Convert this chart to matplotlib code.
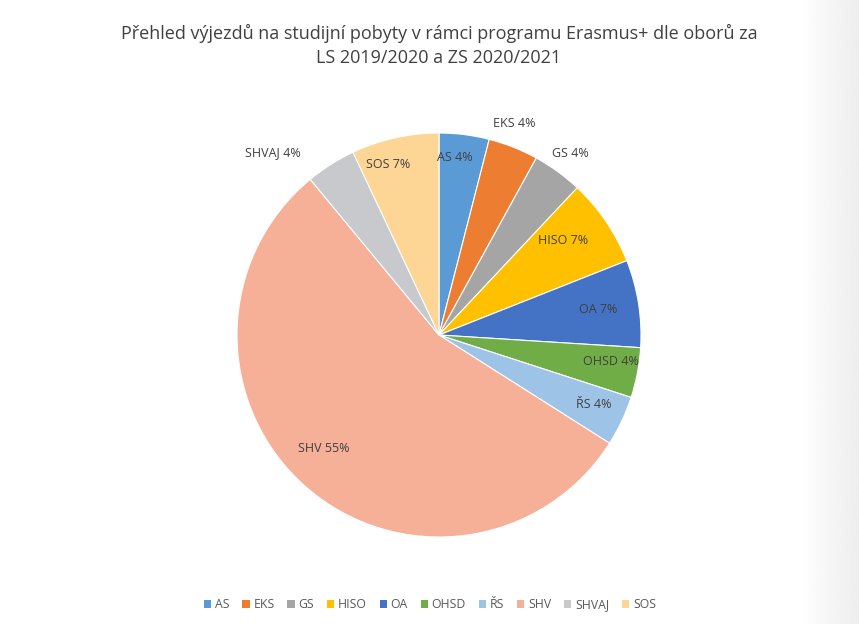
import numpy as np
import matplotlib
matplotlib.use('Agg')
import matplotlib.pyplot as plt
from matplotlib.patches import Patch

# data (percent of outgoing students)
obory = ['AS', 'EKS', 'GS', 'HISO', 'OA', 'OHSD', 'ŘS', 'SHV', 'SHVAJ', 'SOS']
podil = [4, 4, 4, 7, 7, 4, 4, 55, 4, 7]
barvy = ['#5B9BD5', '#ED7D31', '#A5A5A5', '#FFC000', '#4472C4',
         '#70AD47', '#9DC3E6', '#F5B097', '#C8C9CC', '#FDD595']

# label placement (radius factor, angle shift in degrees) - excel "best fit" look
lab_r = [0.88, 1.11, 1.11, 0.77, 0.80, 0.86, 0.84, 0.80, 1.22, 0.88]
lab_da = [2, 2, 0, 3, 0, 2, 1, -4, 10, 4]

plt.rcParams['font.family'] = ['Open Sans', 'DejaVu Sans']

fig = plt.figure(figsize=(8.59, 6.24), dpi=100)
fig.patch.set_facecolor('white')

# faint grey strip on the right edge (screenshot background)
bg = fig.add_axes([0.93, 0, 0.07, 1])
grad = np.linspace(1.0, 0.93, 50).reshape(1, -1)
bg.imshow(grad, cmap='gray', vmin=0, vmax=1, aspect='auto', extent=[0, 1, 0, 1])
bg.axis('off')

ax = fig.add_axes([(439 - 202) / 859, (624 - 335 - 202) / 624, 404 / 859, 404 / 624])
wedges, _ = ax.pie(podil, colors=barvy, startangle=90, counterclock=False,
                   wedgeprops=dict(edgecolor='white', linewidth=0.8))
ax.set_xlim(-1, 1)
ax.set_ylim(-1, 1)
ax.set_aspect('equal')

celkem = sum(podil)
for i, w in enumerate(wedges):
    ang = np.deg2rad((w.theta1 + w.theta2) / 2 + lab_da[i])
    r = lab_r[i]
    ax.text(r * np.cos(ang), r * np.sin(ang),
            f'{obory[i]} {podil[i] / celkem * 100:.0f}%',
            ha='center', va='center', fontsize=9, color='#404040', clip_on=False)

fig.text(439 / 859, 1 - 33 / 624, 'Přehled výjezdů na studijní pobyty v rámci programu Erasmus+ dle oborů za',
         ha='center', va='center', fontsize=13, color='#404040')
fig.text(439 / 859, 1 - 58 / 624, 'LS 2019/2020 a ZS 2020/2021',
         ha='center', va='center', fontsize=13, color='#404040')

handles = [Patch(facecolor=c, edgecolor='none') for c in barvy]
fig.legend(handles, obory, loc='center', bbox_to_anchor=(430 / 859, 1 - 605 / 624), ncol=10,
           frameon=False, fontsize=8.8, handlelength=0.6, handleheight=0.6,
           handletextpad=0.3, columnspacing=1.05, labelcolor='#595959')

fig.savefig('out.png', dpi=100, facecolor='white')
